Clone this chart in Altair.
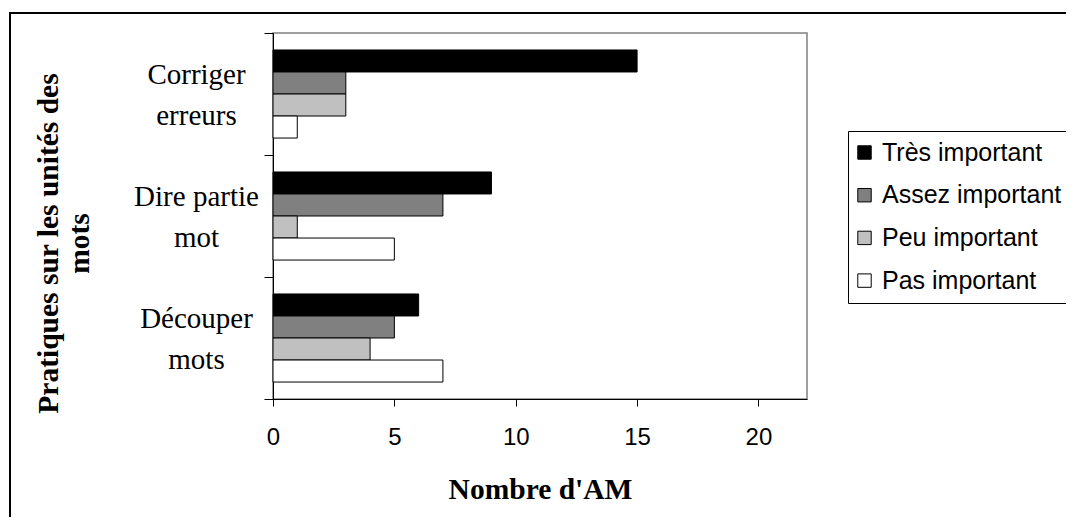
import altair as alt
import pandas as pd

categories = ["Corriger\nerreurs", "Dire partie\nmot", "Découper\nmots"]
levels = ["Très important", "Assez important", "Peu important", "Pas important"]
tres = [15, 9, 6]
assez = [3, 7, 5]
peu = [3, 1, 4]
pas = [1, 5, 7]
colors = ["#000000", "#808080", "#C0C0C0", "#FFFFFF"]
x_ticks = [0, 5, 10, 15, 20]

rows = []
for i, c in enumerate(categories):
    for lvl, series in zip(levels, [tres, assez, peu, pas]):
        rows.append({"cat": c, "level": lvl, "value": series[i]})
df = pd.DataFrame(rows)

bars = alt.Chart(df).mark_bar(stroke="black", strokeWidth=1).encode(
    x=alt.X(
        "value:Q",
        scale=alt.Scale(domain=[0, 22], nice=False),
        axis=alt.Axis(
            values=x_ticks, grid=False, labelFont="Liberation Sans", labelFontSize=24,
            labelColor="black", tickSize=7, tickColor="black", domainColor="black",
            labelPadding=19, labelFlush=False,
            title="Nombre d'AM", titleFont="Liberation Serif", titleFontWeight="bold",
            titleFontSize=29.5, titleColor="black", titleBaseline="alphabetic",
            titleY=99, titleX=267,
        ),
    ),
    y=alt.Y(
        "cat:N", sort=categories,
        scale=alt.Scale(paddingInner=0, paddingOuter=0),
        axis=alt.Axis(
            title=["Pratiques sur les unités des", "mots"],
            titleFont="Liberation Serif", titleFontWeight="bold", titleFontSize=29.5,
            titleColor="black", titleAngle=270, titleAlign="center",
            titleBaseline="alphabetic", titleX=-216, titleY=210, titleLineHeight=31,
            labelExpr="split(datum.label, '\\n')",
            labelFont="Liberation Serif", labelFontSize=29, labelColor="black",
            labelAlign="center", labelBaseline="middle", labelPadding=68,
            labelOffset=-20,
            labelLineHeight=41, labelLimit=400, labelBound=False,
            tickBand="extent", tickSize=9, tickColor="black", domainColor="black",
        ),
    ),
    yOffset=alt.YOffset("level:N", sort=levels,
                        scale=alt.Scale(paddingInner=0, paddingOuter=0.77)),
    color=alt.Color(
        "level:N", sort=levels,
        scale=alt.Scale(domain=levels, range=colors),
        legend=alt.Legend(
            title=None, orient="none", legendX=575, legendY=98, direction="vertical",
            columns=1, symbolType="square", symbolSize=180, symbolStrokeColor="black",
            symbolStrokeWidth=1, symbolOpacity=1, symbolOffset=-5,
            labelFont="Liberation Sans",
            labelFontSize=25, labelColor="black", labelOffset=5, labelLimit=400,
            rowPadding=16.7, padding=9, strokeColor="black", fillColor="white",
        ),
    ),
)

frame = alt.Chart(alt.Data(values=[{"a": 1}])).mark_rect(
    fill="transparent", stroke="black", strokeWidth=2
).encode(
    x=alt.value(-263), x2=alt.value(830), y=alt.value(-20), y2=alt.value(530)
)

chart = alt.layer(frame, bars).properties(
    width=534, height=366, autosize="none",
    padding={"left": 265, "top": 25, "right": 259, "bottom": 118},
    background="white",
).configure_view(stroke="#808080", strokeWidth=1.5)

chart.save("out.html", embed_options={"renderer": "svg", "actions": False})
